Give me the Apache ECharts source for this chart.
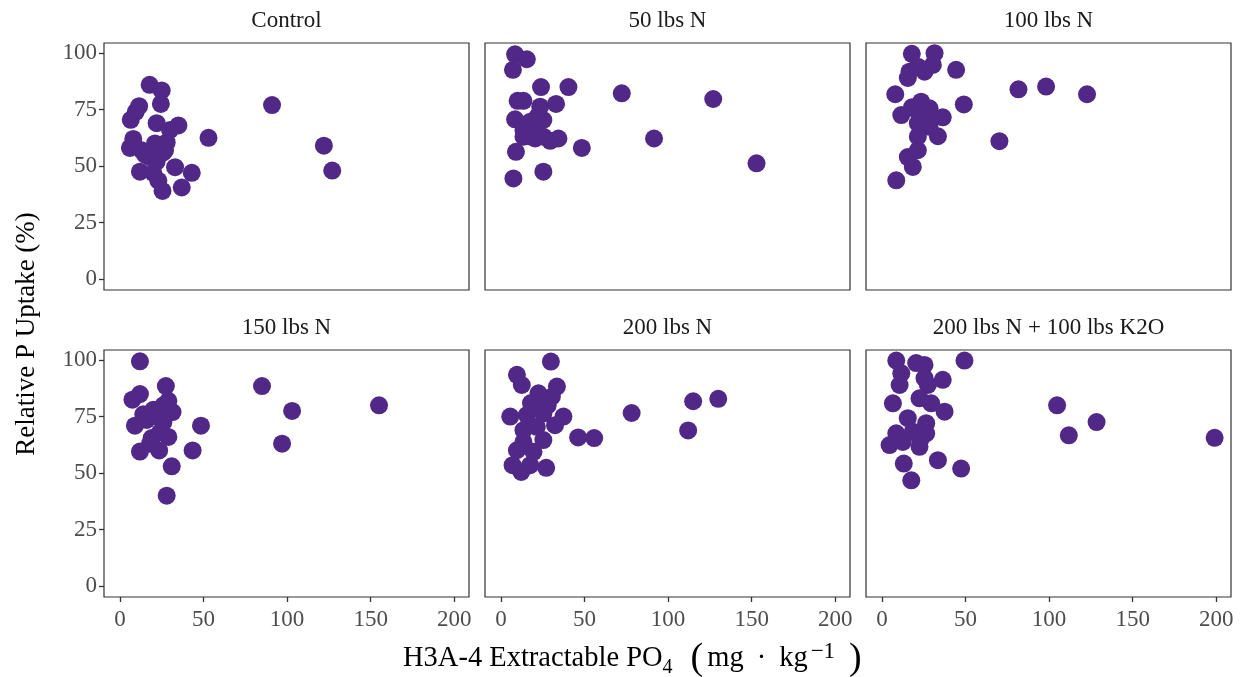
<!DOCTYPE html>
<html><head><meta charset="utf-8">
<script src="https://cdn.jsdelivr.net/npm/echarts@6/dist/echarts.min.js"></script>
<style>html,body{margin:0;padding:0;background:#fff}#c{width:1242px;height:677px}</style>
</head><body><div id="c"></div>
<script>
const panelTitles = ['Control','50 lbs N','100 lbs N','150 lbs N','200 lbs N','200 lbs N + 100 lbs K2O'];
const xTicks = [0,50,100,150,200];
const yTicks = [0,25,50,75,100];

const control = [[17.8,86],[25,83.5],[24.5,77.5],[11.5,76.5],[9.5,74],[6.5,70.5],[22,69],[35,68],[30,66],[53,62.5],[8,62],[28,60.5],[6,58],[13,57],[27,57],[18,54],[22,52],[33,49.5],[12,47.5],[43,47],[20,47],[23,43.5],[37,40.5],[25.5,39],[91,77],[122,59],[127,48],[26,56],[21,60],[15,55]];
const n50 = [[8.5,99.5],[15.5,97.3],[7.2,92.6],[24,85],[40.4,85],[72.3,82.2],[127,79.7],[10,78.9],[13.5,78.9],[33,77.5],[23.5,76.3],[8.5,70.7],[25.4,70.4],[17.5,69.6],[13.5,66],[21.5,66],[13.5,63],[20.5,62.2],[29.5,61.2],[34.4,62.2],[25.4,63],[91.6,62.2],[48.4,58],[9,56.3],[152.9,51.2],[25.4,47.5],[7.5,44.5],[18,63],[22,72]];
const n100 = [[17.9,99.7],[31.5,100],[16.5,91.8],[25.5,91.8],[30.5,94.8],[21.5,94],[15.5,89],[44.4,92.6],[8,81.8],[23.5,78.5],[49,77.3],[11.6,72.6],[21.5,74],[28.5,75.6],[36.4,71.6],[21.5,69],[28.5,67.4],[21.5,63],[33.5,63.2],[21.5,57],[15.5,54],[18.5,49.6],[8.6,43.7],[81.7,84],[98.2,85.2],[122.7,81.8],[70.3,61],[25,70],[18,76],[30,72]];
const n150 = [[12,99.5],[27.5,88.5],[7.5,82.5],[12,85],[20,78],[29,82],[31.5,77],[9,71],[16,73.5],[26,72.5],[48.5,71],[29,66],[19,65.5],[24,68],[43.5,60],[12,59.5],[23.5,60],[31,53],[28,40],[85,88.5],[103,77.5],[155,80],[97,63],[14,76],[22,75],[18,63],[26,80]];
const n200 = [[29.9,99.4],[9.6,93.5],[12.5,89],[33.5,88.3],[22.5,85.3],[30.5,83.8],[5.6,75],[15.5,75.7],[25.4,76.4],[37.4,75],[32.4,71.2],[21.5,70.5],[13.5,69],[46.2,65.8],[55.8,65.5],[25.4,64.6],[13.5,63.8],[9.6,60.1],[19.5,59.4],[7,53.5],[17.5,53.5],[12.2,50.5],[27.1,52.3],[78.2,76.6],[115,81.8],[130,82.9],[112,68.9],[28,80],[18,81]];
const n200k = [[8.6,99.8],[20.5,98.7],[25.5,97.9],[49.4,99.8],[11.6,94.2],[25.5,92],[36.4,91.3],[10.6,89],[27.5,89],[22.5,83.1],[6.6,80.9],[29.5,80.9],[37.5,77.2],[15.5,74.3],[26.5,72.1],[8.6,67.6],[18.5,68.3],[4.6,62.4],[22.5,61.6],[12.5,63.8],[33.5,55.7],[13.1,54.2],[47.4,52],[17.6,46.8],[26.5,67.6],[23,64.7],[104.8,80],[111.8,66.7],[128.4,72.6],[199,65.6]];

const panels = [control, n50, n100, n150, n200, n200k];

const FONT = "'Liberation Serif','DejaVu Serif',serif";
const lefts = [104, 485, 866], tops = [43, 350], W = 365, H = 247;
const grid = [], xAxis = [], yAxis = [], series = [], graphic = [];

panels.forEach((data, i) => {
  const col = i % 3, row = Math.floor(i / 3);
  grid.push({left: lefts[col], top: tops[row], width: W, height: H, show: true,
    borderColor: '#333', borderWidth: 1.2, backgroundColor: 'transparent', containLabel: false});
  xAxis.push({type: 'value', gridIndex: i, min: -9.5, max: 208.8,
    axisLine: {show: false, onZero: false}, splitLine: {show: false},
    axisTick: {show: row === 1, customValues: xTicks, length: 5, lineStyle: {color: '#333', width: 1.3}},
    axisLabel: {show: row === 1, customValues: xTicks, fontFamily: FONT, fontSize: 23, color: '#4d4d4d', margin: 11}});
  yAxis.push({type: 'value', gridIndex: i, min: -4.9, max: 104.5,
    axisLine: {show: false, onZero: false}, splitLine: {show: false},
    axisTick: {show: col === 0, customValues: yTicks, length: 5, lineStyle: {color: '#333', width: 1.3}},
    axisLabel: {show: col === 0, customValues: yTicks, fontFamily: FONT, fontSize: 23, color: '#4d4d4d', margin: 7}});
  series.push({type: 'scatter', xAxisIndex: i, yAxisIndex: i, data: data, symbolSize: 18,
    itemStyle: {color: '#512888', opacity: 1}, animation: false});
  graphic.push({type: 'text', x: lefts[col] + W / 2, y: tops[row] - 22,
    style: {text: panelTitles[i], fontFamily: FONT, fontSize: 23, fill: '#1a1a1a', align: 'center', verticalAlign: 'middle'}});
});

graphic.push({type: 'text', x: 27, y: 334, rotation: Math.PI / 2,
  style: {text: 'Relative P Uptake (%)', fontFamily: FONT, fontSize: 27, fill: '#000', align: 'center', verticalAlign: 'middle'}});
graphic.push({type: 'text', x: 403, y: 659,
  style: {text: '{a|H3A-4 Extractable PO}{s|4}{b|(}{a|mg}{d|·}{a|kg}{p|−1}{c|)}', align: 'left', verticalAlign: 'middle',
    rich: {
      a: {fontFamily: FONT, fontSize: 28.5, fill: '#000', lineHeight: 38, verticalAlign: 'middle'},
      b: {fontFamily: FONT, fontSize: 38, fill: '#000', lineHeight: 38, verticalAlign: 'middle', padding: [0, 4, 0, 18]},
      c: {fontFamily: FONT, fontSize: 38, fill: '#000', lineHeight: 38, verticalAlign: 'middle', padding: [0, 0, 0, 14]},
      d: {fontFamily: FONT, fontSize: 28.5, fill: '#000', lineHeight: 38, verticalAlign: 'middle', padding: [0, 13, 0, 13]},
      s: {fontFamily: FONT, fontSize: 20, fill: '#000', lineHeight: 38, verticalAlign: 'bottom'},
      p: {fontFamily: FONT, fontSize: 23, fill: '#000', lineHeight: 38, verticalAlign: 'top', padding: [0, 0, 0, 3]}
    }}});

const chart = echarts.init(document.getElementById('c'), null, {renderer: 'canvas'});
chart.setOption({animation: false, backgroundColor: '#fff', grid, xAxis, yAxis, series, graphic});
</script></body></html>
